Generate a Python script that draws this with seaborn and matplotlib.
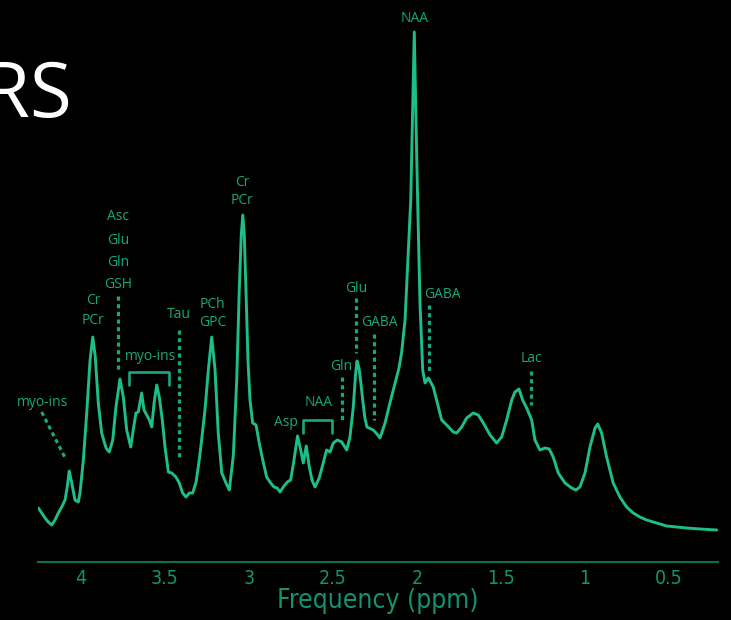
import matplotlib
matplotlib.use("Agg")
import matplotlib.pyplot as plt
import seaborn as sns
import pandas as pd

# spectrum (ppm, amplitude in arbitrary units)
ppm = [4.254, 4.234, 4.214, 4.195, 4.174, 4.155, 4.135, 4.115, 4.095, 4.082,
       4.070, 4.055, 4.036, 4.016, 4.006, 3.986, 3.966, 3.946, 3.930, 3.915,
       3.897, 3.877, 3.851, 3.832, 3.811, 3.792, 3.768, 3.748, 3.728, 3.704,
       3.689, 3.673, 3.659, 3.639, 3.625, 3.609, 3.593, 3.579, 3.565, 3.549,
       3.534, 3.516, 3.500, 3.480, 3.460, 3.435, 3.415, 3.395, 3.375, 3.355,
       3.335, 3.315, 3.296, 3.282, 3.262, 3.242, 3.222, 3.202, 3.183, 3.162,
       3.137, 3.117, 3.093, 3.073, 3.058, 3.046, 3.037, 3.028, 3.018, 3.006,
       2.994, 2.978, 2.958, 2.939, 2.918, 2.895, 2.871, 2.851, 2.832, 2.815,
       2.796, 2.772, 2.752, 2.732, 2.711, 2.692, 2.677, 2.659, 2.641, 2.625,
       2.607, 2.582, 2.558, 2.538, 2.518, 2.498, 2.474, 2.448, 2.418, 2.399,
       2.379, 2.366, 2.357, 2.345, 2.336, 2.323, 2.310, 2.298, 2.260, 2.238,
       2.220, 2.190, 2.161, 2.141, 2.121, 2.107, 2.091, 2.071, 2.052, 2.037,
       2.027, 2.016, 2.006, 1.996, 1.982, 1.966, 1.952, 1.932, 1.903, 1.873,
       1.853, 1.823, 1.784, 1.764, 1.734, 1.704, 1.665, 1.635, 1.605, 1.565,
       1.526, 1.496, 1.466, 1.436, 1.417, 1.393, 1.371, 1.347, 1.317, 1.298,
       1.268, 1.238, 1.213, 1.189, 1.159, 1.119, 1.079, 1.054, 1.030, 1.000,
       0.970, 0.940, 0.924, 0.901, 0.871, 0.832, 0.792, 0.752, 0.713, 0.673,
       0.633, 0.573, 0.514, 0.454, 0.395, 0.315, 0.216]
amp = [54, 49, 44, 40, 37, 42, 49, 55, 62, 75,
       91, 79, 62, 60, 69, 102, 149, 202, 225, 205,
       159, 129, 114, 110, 122, 155, 183, 165, 132, 115,
       132, 149, 150, 169, 152, 147, 142, 135, 159, 177,
       165, 142, 115, 90, 89, 85, 79, 69, 65, 69,
       69, 80, 102, 122, 152, 192, 225, 192, 129, 89,
       79, 72, 107, 182, 272, 327, 347, 327, 272, 202,
       162, 139, 137, 119, 102, 85, 79, 75, 74, 70,
       75, 80, 82, 102, 126, 112, 99, 116, 95, 82,
       75, 84, 99, 112, 110, 119, 122, 120, 112, 125,
       155, 187, 201, 194, 182, 162, 144, 135, 132, 128,
       124, 139, 159, 172, 185, 194, 210, 242, 309, 362,
       442, 530, 442, 362, 259, 192, 179, 184, 175, 155,
       142, 137, 130, 129, 135, 144, 149, 147, 139, 127,
       119, 125, 142, 162, 170, 173, 162, 154, 142, 122,
       112, 114, 113, 105, 89, 79, 74, 72, 75, 89,
       115, 134, 138, 129, 105, 79, 65, 55, 49, 45,
       42, 39, 36, 35, 34, 33, 32]

# metabolite labels: text, ppm, height
label_text = ["NAA", "Cr", "PCr", "Asc", "Glu", "Gln", "GSH", "Cr", "PCr",
              "Tau", "PCh", "GPC", "myo-ins", "myo-ins", "Asp", "NAA",
              "Gln", "Glu", "GABA", "GABA", "Lac"]
label_ppm = [2.012, 3.042, 3.042, 3.778, 3.778, 3.778, 3.778, 3.927, 3.927,
             3.417, 3.216, 3.216, 3.589, 4.228, 2.780, 2.587,
             2.452, 2.363, 2.224, 1.849, 1.317]
label_amp = [544, 380, 362, 345, 321, 299, 277, 261, 242,
             248, 258, 239, 206, 160, 139, 159,
             195, 274, 240, 267, 204]

# dotted pointer lines: (ppm0, amp0, ppm1, amp1)
dot_x0 = [3.778, 3.417, 4.234, 2.448, 2.363, 2.256, 1.929, 1.321]
dot_y0 = [266, 232, 150, 185, 264, 228, 257, 191]
dot_x1 = [3.778, 3.417, 4.091, 2.448, 2.363, 2.256, 1.929, 1.321]
dot_y1 = [192, 104, 103, 139, 209, 142, 190, 157]

# brackets: left ppm, right ppm, top, bottom
br_left = [3.712, 2.677]
br_right = [3.474, 2.504]
br_top = [190, 142]
br_bot = [177, 129]

ticks = [4, 3.5, 3, 2.5, 2, 1.5, 1, 0.5]
tick_labels = ["4", "3.5", "3", "2.5", "2", "1.5", "1", "0.5"]

line_col = "#1dbd8c"
text_col = "#18a77e"
axis_col = "#0c6e52"
tick_col = "#12946f"

sns.set_style("dark", {"axes.facecolor": "black", "figure.facecolor": "black"})

fig = plt.figure(figsize=(7.31, 6.2), dpi=100)
ax = fig.add_axes([38 / 731, 58 / 620, 680 / 731, 562 / 620])

df = pd.DataFrame({"ppm": ppm, "amp": amp})
sns.lineplot(data=df, x="ppm", y="amp", ax=ax, color=line_col, lw=2.1,
             estimator=None, sort=False)

ax.set_xlim(4.256, 0.208)
ax.set_ylim(0, 562)
ax.set_ylabel("")

for t, x, y in zip(label_text, label_ppm, label_amp):
    ax.text(x, y, t, color=text_col, fontsize=10, ha="center", va="center",
            family=["Open Sans", "DejaVu Sans"])

for x0, y0, x1, y1 in zip(dot_x0, dot_y0, dot_x1, dot_y1):
    ax.plot([x0, x1], [y0, y1], color=text_col, lw=2.3,
            linestyle=(0, (1.3, 1.1)))

for l, r, t, b in zip(br_left, br_right, br_top, br_bot):
    ax.plot([l, l, r, r], [b, t, t, b], color=text_col, lw=1.9)

ax.set_xticks(ticks)
ax.set_xticklabels(tick_labels)
ax.set_yticks([])
ax.tick_params(axis="x", direction="in", length=6, width=1.2, colors=axis_col,
               labelcolor=tick_col, labelsize=14, pad=5)
for lab in ax.get_xticklabels():
    lab.set_family(["Liberation Sans Narrow", "DejaVu Sans"])
    lab.set_fontstretch("condensed")
ax.set_xlabel("Frequency (ppm)", color=tick_col, fontsize=19, labelpad=0,
              family=["Liberation Sans Narrow", "DejaVu Sans"],
              fontstretch="condensed")

for s in ["left", "right", "top"]:
    ax.spines[s].set_visible(False)
ax.spines["bottom"].set_color(axis_col)
ax.spines["bottom"].set_linewidth(1.5)
ax.grid(False)

fig.text(72 / 731, 1 - 117 / 620, "MRS", color="white", fontsize=55,
         ha="right", va="baseline", family=["Open Sans", "DejaVu Sans"])

fig.savefig("out.png", dpi=100, facecolor="black")
